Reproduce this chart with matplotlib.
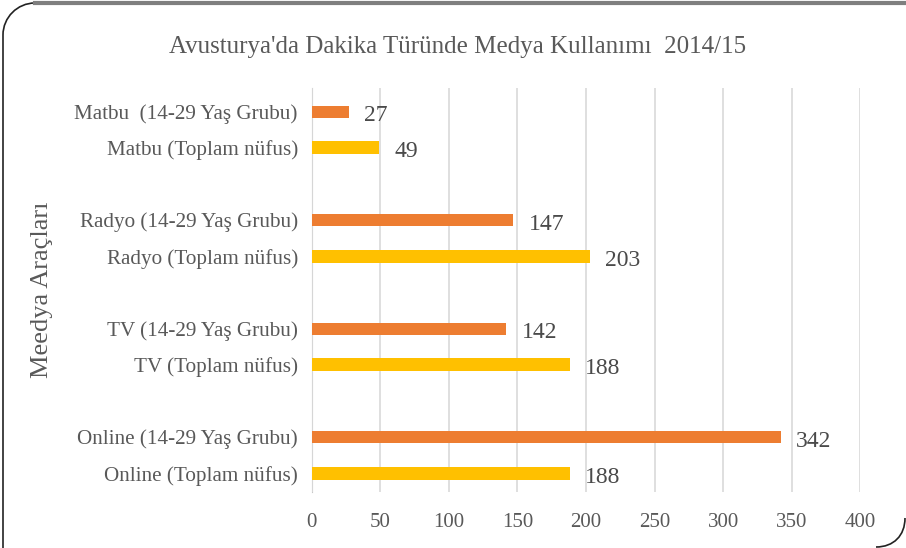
import matplotlib
matplotlib.use("Agg")
import matplotlib.pyplot as plt
from matplotlib.patches import PathPatch
from matplotlib.path import Path
from matplotlib.lines import Line2D

plt.rcParams['font.family'] = ['Liberation Serif', 'DejaVu Serif']

# data, top to bottom as shown
media = ["Matbu", "Radyo", "TV", "Online"]
genc = [27, 147, 142, 342]       # 14-29 Yaş Grubu
toplam = [49, 203, 188, 188]     # Toplam nüfus
lbl_genc = ["Matbu  (14-29 Yaş Grubu)", "Radyo (14-29 Yaş Grubu)",
            "TV (14-29 Yaş Grubu)", "Online (14-29 Yaş Grubu)"]
lbl_toplam = ["Matbu (Toplam nüfus)", "Radyo (Toplam nüfus)",
              "TV (Toplam nüfus)", "Online (Toplam nüfus)"]
xticks = [0, 50, 100, 150, 200, 250, 300, 350, 400]

c_genc = "#ED7D31"
c_toplam = "#FFC000"
txt = "#595959"
grid = "#d9d9d9"

fig = plt.figure(figsize=(9.06, 5.48), dpi=100)
ax = fig.add_axes([0.344, 0.1022, 0.6057, 0.737])

n = len(media)
ypos, yl = [], []
for i in range(n):
    base = (n - 1 - i) * 3
    ax.barh(base + 1, genc[i], height=0.33, color=c_genc, zorder=3)
    ax.barh(base, toplam[i], height=0.36, color=c_toplam, zorder=3)
    for y, v in [(base + 1, genc[i]), (base, toplam[i])]:
        ax.annotate(str(v), (v, y), xytext=(11, -3), textcoords="offset points",
                    va="center", ha="left", fontsize=17, color="#4a4a4a")
    ypos += [base + 1, base]
    yl += [lbl_genc[i], lbl_toplam[i]]

ax.set_yticks(ypos)
ax.set_yticklabels(yl, fontsize=15.2, color=txt)
ax.set_xticks(xticks)
ax.set_xticklabels([str(t) for t in xticks], fontsize=15, color=txt)
ax.tick_params(axis="y", length=0, pad=10)
ax.tick_params(axis="x", length=0, pad=15)
ax.set_xlim(0, 400)
ax.set_ylim(-0.52, 10.65)
ax.grid(axis="x", color=grid, lw=1.2, zorder=0)
for s in ["top", "right", "bottom"]:
    ax.spines[s].set_visible(False)
ax.spines["left"].set_color("#c8c8c8")
ax.spines["left"].set_zorder(1)

fig.text(0.505, 0.915, "Avusturya'da Dakika Türünde Medya Kullanımı  2014/15",
         ha="center", va="center", fontsize=18, color=txt)
fig.text(0.046, 0.471, "Meedya Araçları", rotation=90, ha="center",
         va="center", fontsize=19, color=txt)

# frame: rounded top-left and bottom-right corners only
W, H = 906, 548
r = 32
k = 0.55 * r
tl = [(W, 3), (3 + r, 3), (3 + r - k, 3), (3, 3 + r - k), (3, 3 + r), (3, H)]
codes = [Path.MOVETO, Path.LINETO, Path.CURVE4, Path.CURVE4, Path.CURVE4,
         Path.LINETO]
pts = [(x / W, 1 - y / H) for x, y in tl]
fig.add_artist(PathPatch(Path(pts, codes), transform=fig.transFigure,
                         fill=False, ec="#222222", lw=1.2))
br = [(W - 1, H - 30), (W - 1, H - 30 + k), (W - 30 + k, H - 1), (W - 30, H - 1)]
pts = [(x / W, 1 - y / H) for x, y in br]
fig.add_artist(PathPatch(Path(pts, [Path.MOVETO] + [Path.CURVE4] * 3),
                         transform=fig.transFigure, fill=False,
                         ec="#222222", lw=1.2))
fig.add_artist(Line2D([(3 + r) / W, 1], [1 - 3 / H, 1 - 3 / H],
                      transform=fig.transFigure, color="#7f7f7f", lw=3))

fig.savefig("out.png", dpi=100)
